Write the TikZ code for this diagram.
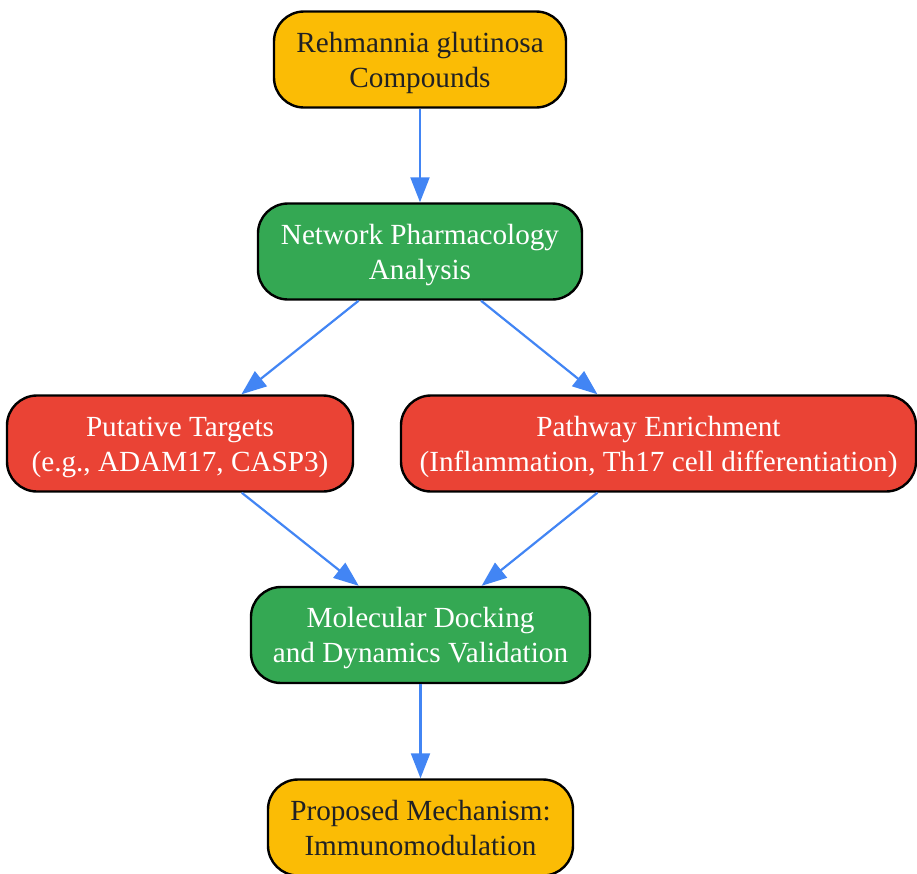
\documentclass[tikz,border=0pt]{standalone}
\usepackage{fontspec}
\setmainfont{Liberation Serif}
\usetikzlibrary{arrows.meta}
\definecolor{gyellow}{HTML}{FBBC05}
\definecolor{ggreen}{HTML}{34A853}
\definecolor{gred}{HTML}{EA4335}
\definecolor{gblue}{HTML}{4285F4}
\definecolor{gtext}{HTML}{202124}
\newcommand{\twolines}[2]{\rule{0pt}{27pt}#1\\#2\rule[-6.5pt]{0pt}{6.5pt}}
\tikzset{
  box/.style={draw=black, line width=2.4pt, rounded corners=30pt, align=center,
    minimum height=96pt, inner sep=0pt,
    font=\fontsize{29.2}{35}\selectfont},
  ybox/.style={box, fill=gyellow, text=gtext},
  gbox/.style={box, fill=ggreen, text=white},
  rbox/.style={box, fill=gred, text=white},
  conn/.style={draw=gblue, line width=2.2pt, -{Triangle[length=25pt,width=19pt]}}
}
\begin{document}
\begin{tikzpicture}[x=1pt,y=-1pt]
\useasboundingbox (0,0) rectangle (917,873);
\node[ybox, minimum width=292pt] (comp) at (420,59.5) {\twolines{Rehmannia glutinosa}{Compounds}};
\node[gbox, minimum width=324pt] (net) at (420,251.5) {\twolines{Network Pharmacology}{Analysis}};
\node[rbox, minimum width=346pt] (targ) at (180,443.5) {\twolines{Putative Targets}{(e.g., ADAM17, CASP3)}};
\node[rbox, minimum width=515pt] (path) at (658.5,443.5) {\twolines{Pathway Enrichment}{(Inflammation, Th17 cell differentiation)}};
\node[gbox, minimum width=339pt] (dock) at (420.5,635) {\twolines{Molecular Docking}{and Dynamics Validation}};
\node[ybox, minimum width=305pt] (mech) at (420.5,827.5) {\twolines{Proposed Mechanism:}{Immunomodulation}};
\draw[conn] (comp) -- (net);
\draw[conn] (net) -- (targ);
\draw[conn] (net) -- (path);
\draw[conn] (targ) -- (dock);
\draw[conn] (path) -- (dock);
\draw[conn] (dock) -- (mech);
\end{tikzpicture}
\end{document}
